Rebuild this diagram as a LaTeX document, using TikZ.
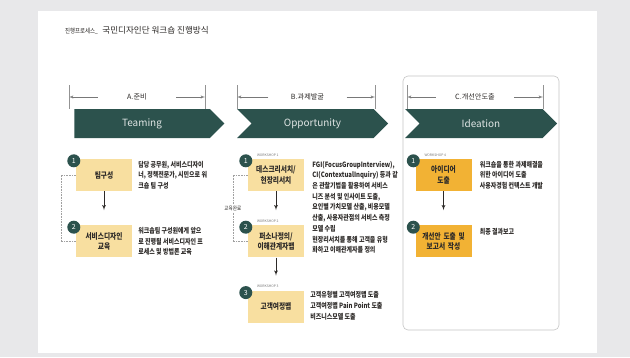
\documentclass[tikz,border=0pt]{standalone}
\usepackage{fontspec}
\setmainfont{Noto Sans CJK KR}
\newfontfamily\narrowkr[FakeStretch=0.82]{Noto Sans CJK KR}
\usepackage{tikz}
\usetikzlibrary{shapes,arrows,positioning}

\definecolor{pagegray}{RGB}{232,232,234}
\definecolor{phaseteal}{RGB}{44,82,77}
\definecolor{paleyellow}{RGB}{248,223,160}
\definecolor{ideaorange}{RGB}{242,178,52}
\definecolor{textgray}{RGB}{45,42,40}
\definecolor{linegray}{RGB}{120,120,120}

\begin{document}
\begin{tikzpicture}[
    x=1bp, y=1bp,
    phase/.style={signal, signal to=east, signal from=west, fill=phaseteal, text=white!85!phaseteal, minimum width=151bp, minimum height=29bp, inner sep=0pt, font=\fontsize{10}{12}\selectfont},
    dimlabel/.style={minimum width=78bp, inner sep=0pt, text=textgray, font=\fontsize{7.2}{9}\selectfont},
    dimarrow/.style={draw=linegray, line width=0.5bp, -latex'},
    dimtick/.style={draw=linegray!80, line width=0.5bp},
    stepbox/.style={rectangle, fill=paleyellow, text width=54bp, minimum width=56bp, minimum height=32bp, text centered, inner sep=1bp, text=textgray, font=\narrowkr\fontsize{8.2}{10.5}\selectfont\bfseries},
    ideabox/.style={stepbox, fill=ideaorange},
    numdot/.style={circle, fill=phaseteal, text=white, minimum size=13bp, inner sep=0pt, font=\fontsize{7}{8}\selectfont},
    wslabel/.style={anchor=west, inner sep=0pt, text=linegray, font=\fontsize{3.4}{4}\selectfont},
    desc/.style={inner sep=0pt, align=left, text=textgray, font=\narrowkr\fontsize{7.3}{10.75}\selectfont\bfseries},
    line/.style={draw=textgray, -latex', line width=0.8bp, shorten >=15bp},
    bracket/.style={draw=linegray!70, densely dotted, line width=0.6bp}
]
    % Page
    \useasboundingbox (0,0) rectangle (630,357);
    \fill[pagegray] (0,0) rectangle (630,357);
    \fill[white] (38,4) rectangle (597,346);

    % Title
    \node [anchor=base west, inner sep=0pt, text=textgray, font=\narrowkr\fontsize{6.6}{8}\selectfont] (subtitle) at (65,324) {진행프로세스\_};
    \node [anchor=base west, inner sep=0pt, text=textgray, font=\fontsize{8.6}{10}\selectfont] (title) at ([xshift=4bp]subtitle.base east) {국민디자인단 워크숍 진행방식};

    % Frame round phase C
    \node [draw=gray!45, rounded corners=5bp, line width=0.6bp, minimum width=156bp, minimum height=254bp] (cframe) at (481,154) {};

    % Phases
    \node [phase, signal from=nowhere, minimum width=150bp] (teaming) at (142,233.5) {Teaming};
    \node [phase] (opportunity) at (312.5,233.5) {Opportunity};
    \node [phase, minimum width=152bp] (ideation) at (481,233.5) {Ideation};

    % Spans
    \node [dimlabel] (spanA) at (137,260) {A.준비};
    \coordinate (aL) at (69,260);
    \coordinate (aR) at (205,260);
    \node [dimlabel] (spanB) at (307.5,260) {B.과제발굴};
    \coordinate (bL) at (237,260);
    \coordinate (bR) at (375,260);
    \node [dimlabel] (spanC) at (475,260) {C.개선안도출};
    \coordinate (cL) at (407,260);
    \coordinate (cR) at (543,260);
    \draw [dimarrow] (spanA) -- (aL);
    \draw [dimarrow] (spanA) -- (aR);
    \draw [dimarrow] (spanB) -- (bL);
    \draw [dimarrow] (spanB) -- (bR);
    \draw [dimarrow] (spanC) -- (cL);
    \draw [dimarrow] (spanC) -- (cR);
    \draw [dimtick] ([yshift=12bp]aL) -- ([yshift=-12bp]aL);
    \draw [dimtick] ([yshift=12bp]aR) -- ([yshift=-12bp]aR);
    \draw [dimtick] ([yshift=12bp]bL) -- ([yshift=-12bp]bL);
    \draw [dimtick] ([yshift=12bp]bR) -- ([yshift=-12bp]bR);
    \draw [dimtick] ([yshift=12bp]cL) -- ([yshift=-12bp]cL);
    \draw [dimtick] ([yshift=12bp]cR) -- ([yshift=-12bp]cR);

    % A. Teaming
    \node [stepbox] (team) at (104,182) {팀구성};
    \node [stepbox, below=34bp of team] (edu) {서비스디자인\\교육};
    \node [numdot] (teamno) at ([xshift=-2bp,yshift=-2bp]team.north west) {1};
    \node [numdot] (eduno) at ([xshift=-2bp,yshift=-2bp]edu.north west) {2};
    \node [desc, below right=2bp and 6bp of team.north east] (teamtxt) {담당 공무원, 서비스디자이\\너, 정책전문가, 시민으로 워\\크숍 팀 구성};
    \node [desc, below right=2bp and 6bp of edu.north east] (edutxt) {워크숍팀 구성원에게 앞으\\로 진행될 서비스디자인 프\\로세스 및 방법론 교육};

    % B. Opportunity
    \node [stepbox] (desk) at (276,182) {데스크리서치/\\현장리서치};
    \node [stepbox, below=34bp of desk] (persona) {퍼소나정의/\\이해관계자맵};
    \node [stepbox, below=33bp of persona] (journey) {고객여정맵};
    \node [numdot] (deskno) at ([xshift=-2bp,yshift=-2bp]desk.north west) {1};
    \node [numdot] (personano) at ([xshift=-2bp,yshift=-2bp]persona.north west) {2};
    \node [numdot] (journeyno) at ([xshift=-2bp,yshift=-2bp]journey.north west) {3};
    \node [wslabel] (ws1) at ([xshift=9bp,yshift=4bp]desk.north west) {WORKSHOP 1};
    \node [wslabel] (ws2) at ([xshift=9bp,yshift=4bp]persona.north west) {WORKSHOP 2};
    \node [wslabel] (ws3) at ([xshift=9bp,yshift=4bp]journey.north west) {WORKSHOP 3};
    \node [desc, below right=2bp and 8bp of desk.north east] (desktxt) {FGI(FocusGroupInterview),\\CI(ContextualInquiry) 등과 같\\은 관찰기법을 활용하여 서비스\\니즈 분석 및 인사이트 도출,\\요인별 가치모델 산출, 비용모델\\산출, 사용자관점의 서비스 측정\\모델 수립\\현장리서치를 통해 고객을 유형\\화하고 이해관계자를 정의};
    \node [desc, below right=1bp and 6bp of journey.north east] (journeytxt) {고객유형별 고객여정맵 도출\\고객여정맵 Pain Point 도출\\비즈니스모델 도출};

    % C. Ideation
    \node [ideabox] (idea) at (443.5,182) {아이디어\\도출};
    \node [ideabox, below=34bp of idea] (report) {개선안 도출 및\\보고서 작성};
    \node [numdot] (ideano) at ([xshift=-2bp,yshift=-2bp]idea.north west) {1};
    \node [numdot] (reportno) at ([xshift=-2bp,yshift=-2bp]report.north west) {2};
    \node [wslabel] (ws4) at ([xshift=9bp,yshift=4bp]idea.north west) {WORKSHOP 4};
    \node [desc, below right=2bp and 8bp of idea.north east] (ideatxt) {워크숍을 통한 과제해결을\\위한 아이디어 도출\\사용자경험 컨텍스트 개발};
    \node [desc, below right=3bp and 8bp of report.north east] (reporttxt) {최종 결과보고};

    % Flow
    \draw [line] (team) -- (edu);
    \draw [line] (desk) -- (persona);
    \draw [line] (persona) -- (journey);
    \draw [line] (idea) -- (report);
    \draw [bracket] (team.west) -- ++(-15bp,0) |- (edu.west);
    \draw [bracket] (desk.west) -- ++(-15bp,0) |- node [pos=0.25, fill=white, inner sep=1bp, text=textgray, font=\narrowkr\fontsize{5.6}{6}\selectfont] (edudone) {교육완료} (persona.west);

\end{tikzpicture}
\end{document}
